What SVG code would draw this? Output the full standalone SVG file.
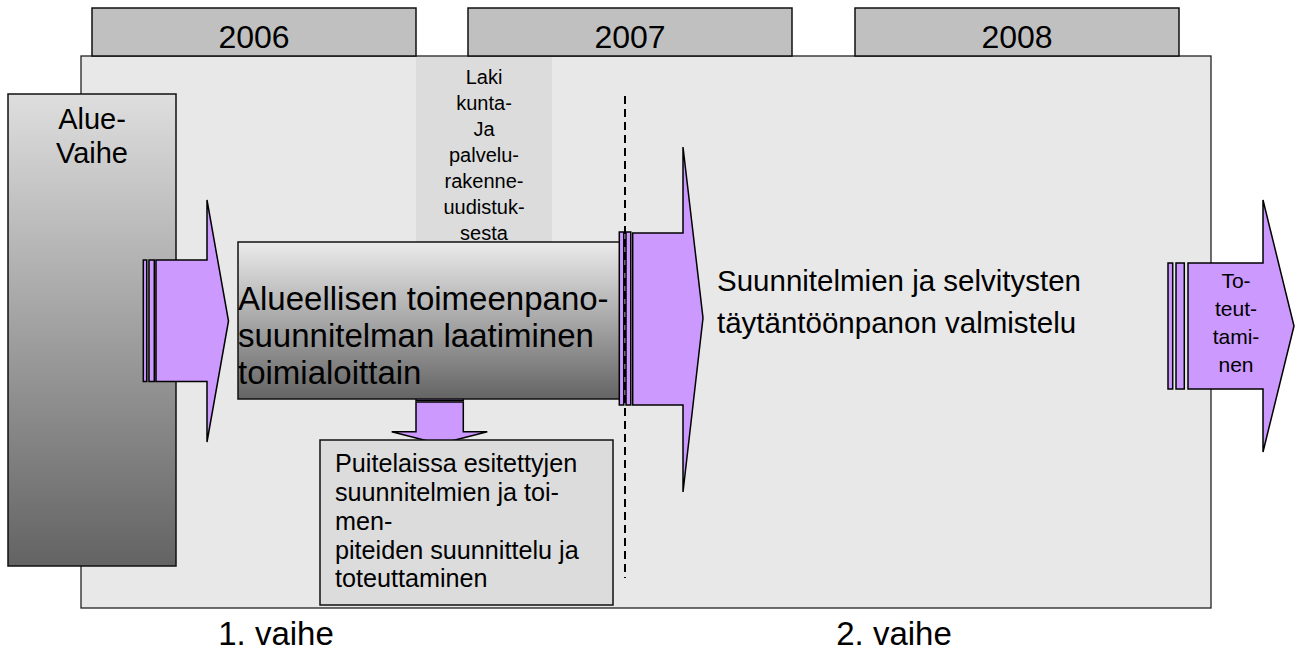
<svg xmlns="http://www.w3.org/2000/svg" width="1298" height="655" viewBox="0 0 1298 655">
<defs>
<linearGradient id="gAlue" x1="0" y1="0" x2="0" y2="1">
<stop offset="0" stop-color="#dedede"/>
<stop offset="1" stop-color="#636363"/>
</linearGradient>
<linearGradient id="gMain" x1="0" y1="0" x2="0" y2="1">
<stop offset="0" stop-color="#ebebeb"/>
<stop offset="1" stop-color="#646464"/>
</linearGradient>
<style>
text{font-family:"Liberation Sans",Arial,sans-serif;fill:#000}
.hdr{fill:#c0c0c0;stroke:#111;stroke-width:1.5}
.pur{fill:#cc99ff;stroke:#000;stroke-width:1.5;stroke-linejoin:miter}
.box{stroke:#111;stroke-width:1.5}
.c{text-anchor:middle}
</style>
</defs>
<rect width="1298" height="655" fill="#fff"/>

<g id="background">
<rect x="81" y="56" width="1130" height="552" fill="#e8e8e8" stroke="#222" stroke-width="1.3"/>
</g>

<g id="year-2006">
<rect class="hdr" x="92" y="8" width="324" height="48"/>
<text class="c" x="254" y="48" font-size="32">2006</text>
</g>
<g id="year-2007">
<rect class="hdr" x="468" y="8" width="324" height="48"/>
<text class="c" x="630" y="48" font-size="32">2007</text>
</g>
<g id="year-2008">
<rect class="hdr" x="855" y="8" width="324" height="48"/>
<text class="c" x="1017" y="48" font-size="32">2008</text>
</g>

<g id="laki">
<rect x="416" y="57" width="136" height="185" fill="#dcdcdc"/>
<text class="c" font-size="20"><tspan x="484" y="84">Laki</tspan><tspan x="484" y="110">kunta-</tspan><tspan x="484" y="136">Ja</tspan><tspan x="484" y="162">palvelu-</tspan><tspan x="484" y="188">rakenne-</tspan><tspan x="484" y="214">uudistuk-</tspan><tspan x="484" y="240">sesta</tspan></text>
</g>

<g id="divider">
<line x1="625" y1="96" x2="625" y2="578" stroke="#000" stroke-width="2" stroke-dasharray="8,5"/>
</g>

<g id="alue-vaihe">
<rect class="box" x="8" y="94" width="168" height="472" fill="url(#gAlue)"/>
<text class="c" font-size="29"><tspan x="92" y="129">Alue-</tspan><tspan x="92" y="163">Vaihe</tspan></text>
</g>

<g id="connectors">
<g id="arrow-left">
<rect class="pur" x="143.3" y="260" width="3.4" height="121.5"/>
<rect class="pur" x="149" y="260" width="5.3" height="121.5"/>
<polygon class="pur" points="156,260 207,260 207,200 228.5,321 207,442 207,381.5 156,381.5"/>
</g>
<g id="arrow-down">
<rect class="pur" x="416" y="392.3" width="47.3" height="3.2"/>
<rect class="pur" x="416" y="397.5" width="47.3" height="3"/>
<polygon class="pur" points="416,402 463.3,402 463.3,431.7 487.3,431.7 439.5,444 391.7,431.7 416,431.7"/>
</g>
</g>

<g id="process">
<rect class="box" x="238" y="242" width="383" height="157" fill="url(#gMain)"/>
<text font-size="33"><tspan x="238" y="310">Alueellisen toimeenpano-</tspan><tspan x="238" y="347">suunnitelman laatiminen</tspan><tspan x="238" y="384">toimialoittain</tspan></text>
</g>

<g id="arrow-mid">
<rect class="pur" x="619.3" y="232" width="4.5" height="173"/>
<rect class="pur" x="626" y="232" width="4.8" height="173"/>
<polygon class="pur" points="632.7,233 683,233 683,147 703,318 683,492 683,405 632.7,405"/>
</g>

<g id="puitelaissa">
<rect class="box" x="320" y="440" width="293" height="165" fill="#dcdcdc"/>
<text font-size="25.2"><tspan x="335" y="472">Puitelaissa esitettyjen</tspan><tspan x="335" y="501">suunnitelmien ja toi-</tspan><tspan x="335" y="530">men-</tspan><tspan x="335" y="559">piteiden suunnittelu ja</tspan><tspan x="335" y="587">toteuttaminen</tspan></text>
</g>

<g id="valmistelu">
<text font-size="29.5"><tspan x="717" y="291">Suunnitelmien ja selvitysten</tspan><tspan x="717" y="333">täytäntöönpanon valmistelu</tspan></text>
</g>

<g id="toteuttaminen">
<rect class="pur" x="1168" y="263" width="4.7" height="126"/>
<rect class="pur" x="1176" y="263" width="8.3" height="126"/>
<polygon class="pur" points="1188,263 1263,263 1263,200 1294,326 1263,452 1263,389 1188,389"/>
<text class="c" font-size="21"><tspan x="1236" y="288">To-</tspan><tspan x="1236" y="316">teut-</tspan><tspan x="1236" y="344">tami-</tspan><tspan x="1236" y="372">nen</tspan></text>
</g>

<g id="phases">
<text class="c" x="276" y="645" font-size="33">1. vaihe</text>
<text class="c" x="894" y="645" font-size="33">2. vaihe</text>
</g>
</svg>
